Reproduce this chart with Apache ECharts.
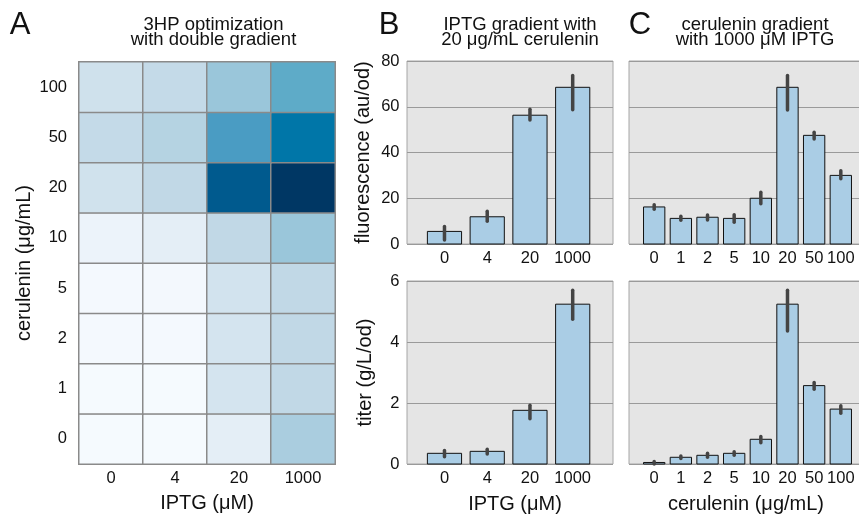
<!DOCTYPE html>
<html>
<head>
<meta charset="utf-8">
<script src="https://cdn.jsdelivr.net/npm/echarts@6/dist/echarts.min.js"></script>
<style>
  html, body { margin: 0; padding: 0; background: #fff; }
  #chart { width: 859px; height: 517px; }
</style>
</head>
<body>
<div id="chart"></div>
<script>
// categories
const iptgLabels = ['0', '4', '20', '1000']
const ceruLabels = ['0', '1', '2', '5', '10', '20', '50', '100']

// heatmap (relative score), rows = cerulenin 0 -> 100, cols = IPTG 0 -> 1000
const heatValues = [
  [0.1, 0.1, 1.0, 3.6],
  [0.1, 0.1, 1.9, 3.0],
  [0.15, 0.15, 1.9, 3.0],
  [0.15, 0.2, 2.0, 3.0],
  [0.6, 1.0, 3.0, 4.0],
  [2.1, 3.0, 8.0, 9.0],
  [2.8, 3.3, 6.0, 7.0],
  [2.2, 2.8, 4.0, 5.0],
]
const heatColors = ['#f7fbff', '#e4eef6', '#d2e3ee', '#c1d8e6', '#9ac6da', '#5eabc8', '#4a9cc3', '#0076a8', '#005a8e', '#003764']

// B: IPTG gradient, 20 ug/mL cerulenin
const fluoIptg = [5.5, 11.9, 56.3, 68.5]
const fluoIptgLo = [1.7, 9.9, 54.2, 58.7]
const fluoIptgHi = [7.7, 14.3, 58.9, 73.7]
const titerIptg = [0.35, 0.415, 1.76, 5.24]
const titerIptgLo = [0.24, 0.33, 1.48, 4.75]
const titerIptgHi = [0.44, 0.48, 1.93, 5.7]

// C: cerulenin gradient, 1000 uM IPTG
const fluoCeru = [16.2, 11.2, 11.7, 11.2, 20.0, 68.5, 47.5, 30.0]
const fluoCeruLo = [15.2, 10.4, 10.5, 9.5, 17.6, 58.6, 45.9, 28.5]
const fluoCeruHi = [17.2, 12.1, 12.7, 12.8, 22.6, 73.7, 48.8, 32.0]
const titerCeru = [0.05, 0.22, 0.285, 0.35, 0.81, 5.24, 2.57, 1.8]
const titerCeruLo = [0.0, 0.18, 0.22, 0.29, 0.70, 4.36, 2.45, 1.66]
const titerCeruHi = [0.08, 0.26, 0.35, 0.40, 0.90, 5.7, 2.67, 1.91]

const FONT = 'Liberation Sans, Arial, sans-serif'
const TXT = '#111'

const heatData = []
heatValues.forEach((row, yi) => row.forEach((v, xi) => heatData.push([xi, yi, v])))

function barItem(params, api) {
  const x = api.value(0)
  const p0 = api.coord([x - 0.4, api.value(1)])
  const p1 = api.coord([x + 0.4, 0])
  return {
    type: 'rect',
    shape: { x: p0[0], y: p0[1], width: p1[0] - p0[0], height: p1[1] - p0[1] },
    style: { fill: '#aacde5', stroke: '#111', lineWidth: 1 },
  }
}

function errItem(params, api) {
  const x = api.value(0)
  const lo = api.coord([x, api.value(1)])
  const hi = api.coord([x, api.value(2)])
  return {
    type: 'line',
    shape: { x1: lo[0], y1: lo[1], x2: hi[0], y2: hi[1] },
    style: { stroke: '#444', lineWidth: 3.5, lineCap: 'round' },
  }
}

function barGrid(left, top, width) {
  return {
    left, top, width, height: 183,
    show: true, backgroundColor: '#e5e5e5', borderColor: '#a6a6a6', borderWidth: 1,
    outerBoundsMode: 'none',
  }
}

function barX(gridIndex, min, max, labels) {
  return {
    gridIndex, type: 'value', min, max,
    axisLine: { show: false }, axisTick: { show: false }, splitLine: { show: false },
    axisLabel: {
      customValues: labels.map((_, i) => i + 1),
      formatter: v => labels[Math.round(v) - 1],
      margin: 6, fontSize: 16.5, fontFamily: FONT, color: TXT,
    },
  }
}

function barY(gridIndex, max, interval, showLabels) {
  return {
    gridIndex, type: 'value', min: 0, max, interval,
    axisLine: { show: false }, axisTick: { show: false },
    splitLine: { lineStyle: { color: '#9a9a9a', width: 1 } },
    axisLabel: { show: showLabels, margin: 7.5, fontSize: 16.5, fontFamily: FONT, color: TXT },
  }
}

function pts(vals) { return vals.map((v, i) => [i + 1, v]) }
function errs(lo, hi) { return lo.map((v, i) => [i + 1, v, hi[i]]) }

function txt(text, x, y, size, extra) {
  return Object.assign({
    type: 'text', x, y,
    style: { text, font: size + 'px ' + FONT, fill: TXT, align: 'center', verticalAlign: 'middle' },
  }, extra || {})
}

const option = {
  animation: false,
  grid: [
    { left: 79, top: 62, width: 256, height: 402, outerBoundsMode: 'none' },
    barGrid(407, 61, 206),
    barGrid(407, 281, 206),
    barGrid(629, 61, 237),
    barGrid(629, 281, 237),
  ],
  xAxis: [
    {
      gridIndex: 0, type: 'category', data: iptgLabels,
      axisLine: { show: false }, axisTick: { show: false },
      axisLabel: { margin: 6, fontSize: 16.5, fontFamily: FONT, color: TXT },
    },
    barX(1, 0.123, 4.943, iptgLabels),
    barX(2, 0.123, 4.943, iptgLabels),
    barX(3, 0.055, 8.945, ceruLabels),
    barX(4, 0.055, 8.945, ceruLabels),
  ],
  yAxis: [
    {
      gridIndex: 0, type: 'category', data: ceruLabels,
      axisLine: { show: false }, axisTick: { show: false },
      axisLabel: { margin: 12, fontSize: 16.5, fontFamily: FONT, color: TXT },
    },
    barY(1, 80, 20, true),
    barY(2, 6, 2, true),
    barY(3, 80, 20, false),
    barY(4, 6, 2, false),
  ],
  visualMap: {
    show: false, seriesIndex: 0, dimension: 2, min: 0, max: 9,
    inRange: { color: heatColors },
  },
  series: [
    {
      type: 'heatmap', xAxisIndex: 0, yAxisIndex: 0, data: heatData,
      itemStyle: { borderColor: '#8a8a8a', borderWidth: 1.5 },
      emphasis: { disabled: true },
    },
    { type: 'custom', xAxisIndex: 1, yAxisIndex: 1, renderItem: barItem, data: pts(fluoIptg) },
    { type: 'custom', xAxisIndex: 1, yAxisIndex: 1, renderItem: errItem, data: errs(fluoIptgLo, fluoIptgHi) },
    { type: 'custom', xAxisIndex: 2, yAxisIndex: 2, renderItem: barItem, data: pts(titerIptg) },
    { type: 'custom', xAxisIndex: 2, yAxisIndex: 2, renderItem: errItem, data: errs(titerIptgLo, titerIptgHi) },
    { type: 'custom', xAxisIndex: 3, yAxisIndex: 3, renderItem: barItem, data: pts(fluoCeru) },
    { type: 'custom', xAxisIndex: 3, yAxisIndex: 3, renderItem: errItem, data: errs(fluoCeruLo, fluoCeruHi) },
    { type: 'custom', xAxisIndex: 4, yAxisIndex: 4, renderItem: barItem, data: pts(titerCeru) },
    { type: 'custom', xAxisIndex: 4, yAxisIndex: 4, renderItem: errItem, data: errs(titerCeruLo, titerCeruHi) },
  ],
  graphic: [
    txt('A', 20, 25, 31),
    txt('B', 389, 25, 31),
    txt('C', 640, 25, 31),
    txt('3HP optimization', 213.5, 24.5, 18.5),
    txt('with double gradient', 213.5, 39.5, 18.5),
    txt('IPTG gradient with', 520, 24.5, 18.5),
    txt('20 μg/mL cerulenin', 520, 39.5, 18.5),
    txt('cerulenin gradient', 755, 24.5, 18.5),
    txt('with 1000 μM IPTG', 755, 39.5, 18.5),
    txt('cerulenin (μg/mL)', 24, 263, 20, { rotation: Math.PI / 2 }),
    txt('fluorescence (au/od)', 363, 152.5, 20, { rotation: Math.PI / 2 }),
    txt('titer (g/L/od)', 365, 372.5, 20, { rotation: Math.PI / 2 }),
    txt('IPTG (μM)', 207, 503, 20),
    txt('IPTG (μM)', 515, 504, 20),
    txt('cerulenin (μg/mL)', 746, 504, 20),
  ],
}

const chart = echarts.init(document.getElementById('chart'))
chart.setOption(option)
</script>
</body>
</html>
